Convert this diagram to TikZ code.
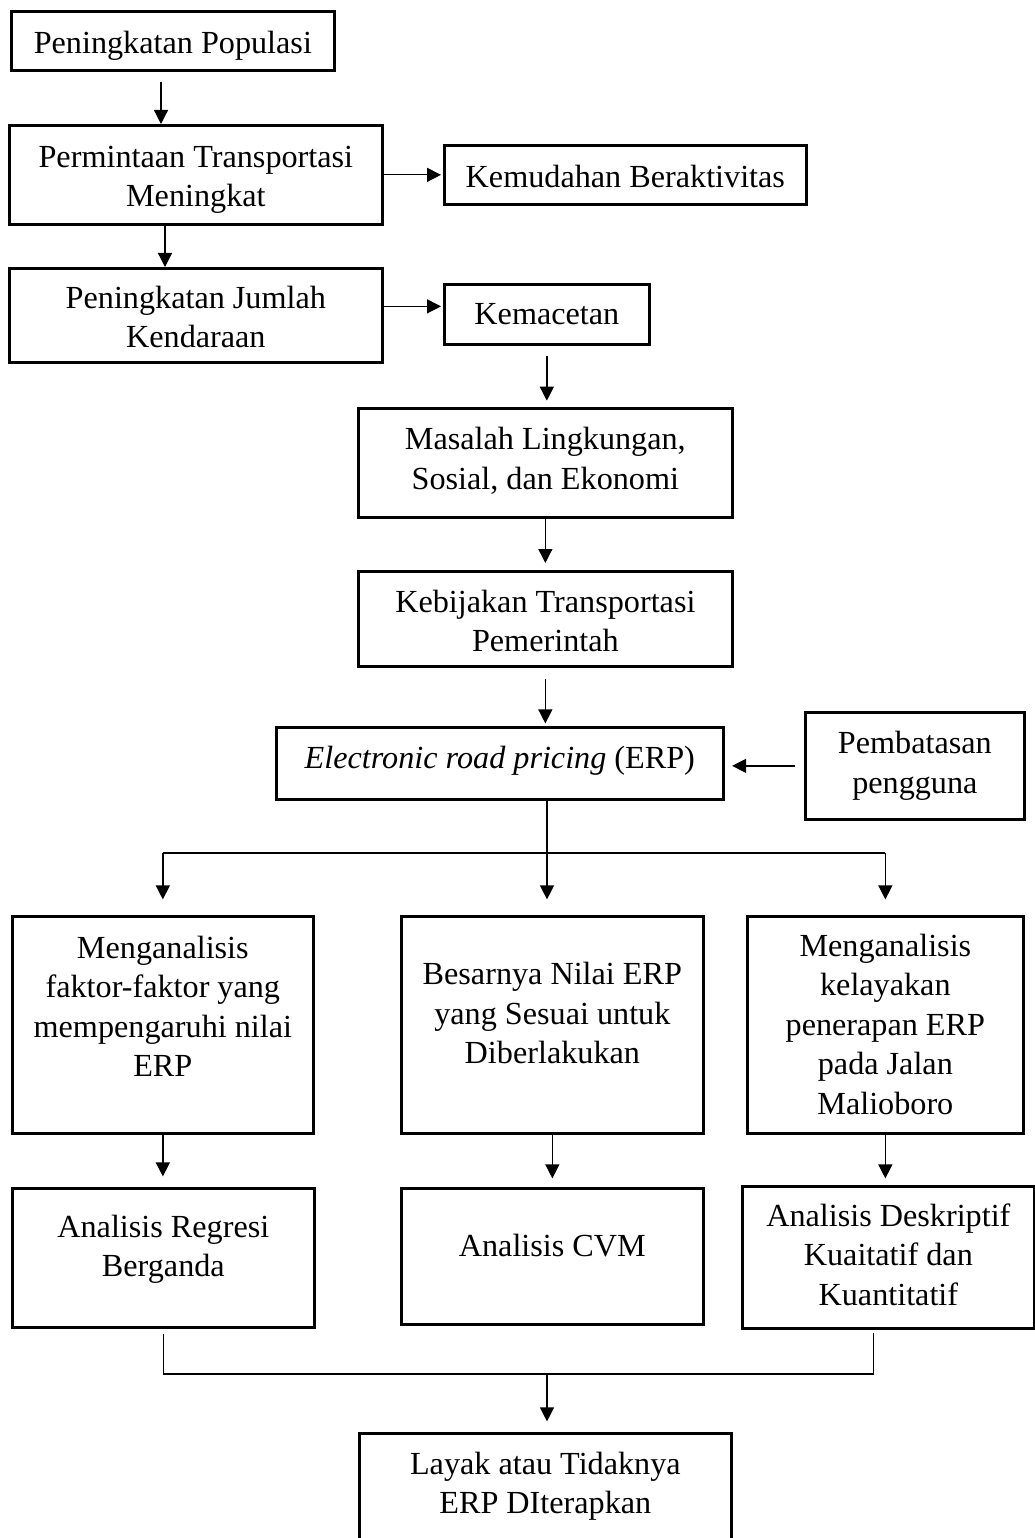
\documentclass[tikz,border=0pt]{standalone}
\usepackage{fontspec}
\setmainfont{Liberation Serif}
\usetikzlibrary{arrows.meta}

\tikzset{
  box/.style n args={3}{draw, line width=2.7pt, inner sep=0pt, anchor=north west,
    align=flush center, text width=#1, text height=#2, text depth=#3,
    font=\fontsize{32.2pt}{39.5pt}\selectfont},
  link/.style={line width=1.3pt},
  arr/.style={link, -{Triangle[length=14pt,width=14pt]}}
}

\begin{document}
\begin{tikzpicture}[x=1pt,y=-1pt]
  \useasboundingbox (0,0) rectangle (1034,1538);

  \node[box={323pt}{41.7pt}{17.3pt}] (pop) at (10,10) {Peningkatan Populasi};
  \node[box={373pt}{41.7pt}{57.3pt}] (dem) at (8,124) {Permintaan Transportasi\\Meningkat};
  \node[box={373pt}{40pt}{54pt}] (veh) at (8,267) {Peningkatan Jumlah\\Kendaraan};
  \node[box={362pt}{42pt}{17pt}] (ease) at (443,144) {Kemudahan Beraktivitas};
  \node[box={205pt}{39.7pt}{20.3pt}] (jam) at (443,283) {Kemacetan};
  \node[box={374pt}{41.3pt}{67.7pt}] (prob) at (357,407) {Masalah Lingkungan,\\Sosial, dan Ekonomi};
  \node[box={374pt}{40.7pt}{54.3pt}] (pol) at (357,570) {Kebijakan Transportasi\\Pemerintah};
  \node[box={447pt}{41.3pt}{30.7pt}] (erp) at (275,726) {\textit{Electronic road pricing} (ERP)};
  \node[box={219pt}{41.3pt}{65.7pt}] (lim) at (804,711) {Pembatasan\\pengguna};

  \node[box={301pt}{41.7pt}{175.3pt}] (fak) at (11,915) {Menganalisis\\faktor-faktor yang\\mempengaruhi nilai\\ERP};
  \node[box={302pt}{68.3pt}{148.7pt}] (val) at (400,915) {Besarnya Nilai ERP\\yang Sesuai untuk\\Diberlakukan};
  \node[box={276pt}{40pt}{177pt}] (fea) at (746,915) {Menganalisis\\kelayakan\\penerapan ERP\\pada Jalan\\Malioboro};

  \node[box={302pt}{49pt}{90pt}] (reg) at (11,1187) {Analisis Regresi\\Berganda};
  \node[box={302pt}{68pt}{68pt}] (cvm) at (400,1187) {Analisis CVM};
  \node[box={292pt}{40pt}{102pt}] (des) at (741,1185) {Analisis Deskriptif\\Kuaitatif dan\\Kuantitatif};

  \node[box={372pt}{40.7pt}{87.3pt}] (res) at (358,1432) {Layak atau Tidaknya\\ERP DIterapkan};

  \coordinate (x1) at (161,0);
  \coordinate (x2) at (165,0);
  \coordinate (split) at (547,853);
  \coordinate (merge) at (547,1374);
  \coordinate (dright) at ([xshift=-15pt]des.south);

  \draw[arr, shorten <=10pt] (pop.south -| x1) -- (dem.north -| x1);
  \draw[arr] (dem.south -| x2) -- (veh.north -| x2);
  \draw[arr, shorten >=2pt] (dem.east) -- (ease.west);
  \draw[arr, shorten >=2pt] ([yshift=9pt]veh.east) -- ([yshift=9pt]veh.east -| jam.west);
  \draw[arr, shorten <=10.5pt, shorten >=6.3pt] (jam.south) -- (jam.south |- prob.north);
  \draw[arr, shorten >=7pt] (prob.south) -- (prob.south |- pol.north);
  \draw[arr, shorten <=11.6pt, shorten >=2.6pt] (pol.south) -- (pol.south |- erp.north);
  \draw[arr, shorten <=9.4pt, shorten >=7.4pt] (lim.west) -- (lim.west -| erp.east);

  \draw[link] (erp.south -| split) -- (split);
  \draw[link] (split -| fak.north) -- (split -| fea.north);
  \draw[arr, shorten >=15.6pt] (split -| fak.north) -- (fak.north);
  \draw[arr, shorten >=15.6pt] (split) -- (split |- val.north);
  \draw[arr, shorten >=15.6pt] (split -| fea.north) -- (fea.north);

  \draw[arr, shorten >=10.6pt] (fak.south) -- (fak.south |- reg.north);
  \draw[arr, shorten >=8.6pt] (val.south) -- (val.south |- cvm.north);
  \draw[arr, shorten >=6.6pt] (fea.south) -- (fea.south |- des.north);

  \draw[link, shorten <=5.6pt, shorten >=3.7pt] (reg.south) -- (reg.south |- merge) -- (dright |- merge) -- (dright);
  \draw[arr, shorten >=10.6pt] (merge) -- (merge |- res.north);
\end{tikzpicture}
\end{document}
